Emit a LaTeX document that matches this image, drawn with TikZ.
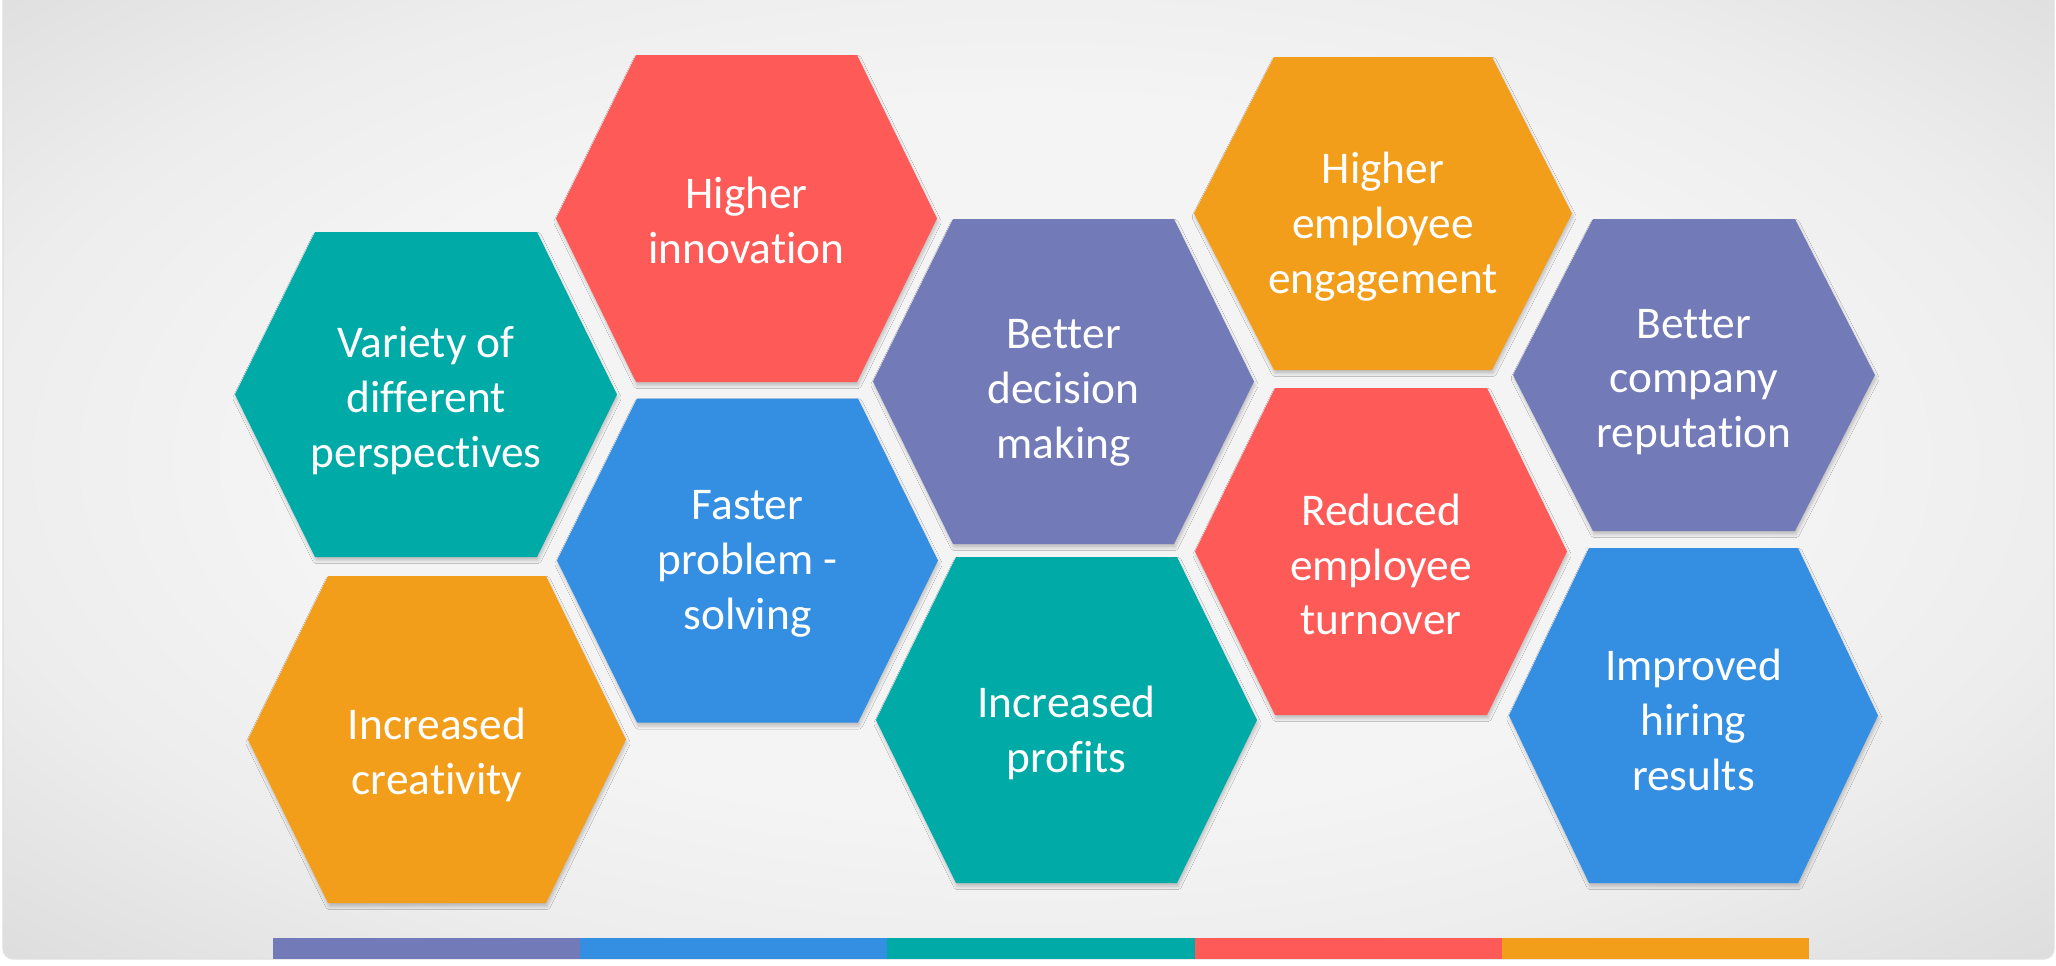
\documentclass[tikz,border=0pt]{standalone}
\usepackage{fontspec}
\setmainfont{Carlito}[Ligatures=NoCommon]
\usetikzlibrary{shadows.blur}

\definecolor{hexred}{HTML}{FE5A58}
\definecolor{hexteal}{HTML}{00AAA7}
\definecolor{hexblue}{HTML}{348EE1}
\definecolor{hexorange}{HTML}{F39E1B}
\definecolor{hexpurple}{HTML}{727BB7}
\definecolor{panelin}{HTML}{F4F4F4}
\definecolor{panelmid}{HTML}{EDEDED}
\definecolor{panelout}{HTML}{DEDEDE}

\pgfdeclareradialshading{panelglow}{\pgfpoint{0bp}{0bp}}{color(0bp)=(panelin); color(18bp)=(panelin); color(26bp)=(panelmid); color(35bp)=(panelout); color(50bp)=(panelout)}

\newcommand{\cellfont}{\fontsize{12.9}{15.6}\selectfont}

\tikzset{
  cell/.style={text=white, align=center, font=\cellfont, inner sep=0pt},
  cellshadow/.style={blur shadow={shadow xshift=0.3pt, shadow yshift=-1pt, shadow blur radius=0.9pt, shadow blur steps=6, shadow opacity=22}}
}

\begin{document}
\begin{tikzpicture}[x=0.01cm, y=-0.01cm]
    \useasboundingbox (0,0) rectangle (2056,966);
    \clip (0,0) rectangle (2056,966);

    %background panel
    \fill[white] (0,0) rectangle (2056,966);
    \shadedraw[shading=panelglow, draw=black!12, rounded corners=3pt] (3,-40) rectangle (2054,959);

    %hexagons: name/centre x/centre y/half width/half height/colour/text shift/text
    \foreach \nm/\cx/\cy/\w/\h/\col/\dy/\txt in {
        persp/426/394.5/191/162.5/hexteal/6/{Variety of\\different\\perspectives},
        innov/746.5/218.5/190.5/163.5/hexred/1.5/{Higher\\innovation},
        faster/747.5/560.5/190.5/162/hexblue/3.5/{Faster\\problem -\\solving},
        creat/437/739.5/189/163.5/hexorange/15/{Increased\\creativity},
        decis/1063.5/381.5/190.5/162.5/hexpurple/11/{Better\\decision\\making},
        profit/1066.5/720/190.5/163/hexteal/13/{Increased\\profits},
        engage/1383/213.5/189/156.5/hexorange/13/{Higher\\employee\\engagement},
        turn/1381/551.5/186/163.5/hexred/13/{Reduced\\employee\\turnover},
        repute/1694/375/181/156/hexpurple/7/{Better\\company\\reputation},
        hiring/1693.5/715.5/184.5/167.5/hexblue/4.5/{Improved\\hiring\\results}}
    {
        \path[fill=\col, cellshadow] (\cx-\w,\cy) -- (\cx-\w+80,\cy-\h) -- (\cx+\w-80,\cy-\h)
            -- (\cx+\w,\cy) -- (\cx+\w-80,\cy+\h) -- (\cx-\w+80,\cy+\h) -- cycle;
        \node[cell] (\nm) at (\cx,\cy+\dy) {\txt};
    }

    %colour bar
    \foreach \col [count=\i from 0] in {hexpurple, hexblue, hexteal, hexred, hexorange}
        \fill[\col] (273+307.2*\i,938) rectangle ++(307.2,21);

\end{tikzpicture}
\end{document}
